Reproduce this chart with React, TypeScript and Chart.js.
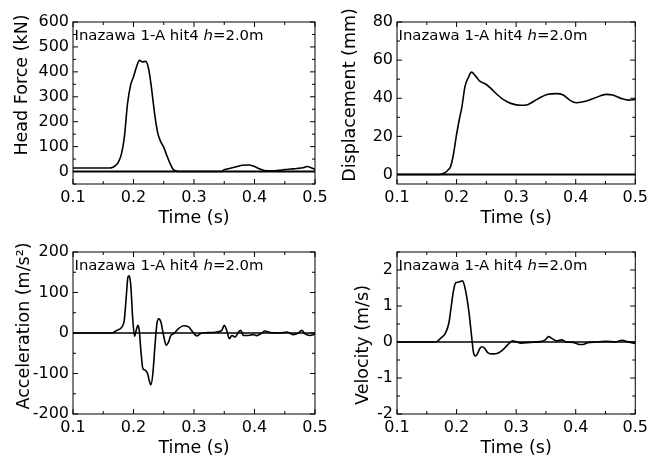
import React, { useEffect, useRef } from 'react';
import { Chart, registerables } from 'chart.js';

Chart.register(...registerables);

// ---------------- data ----------------
const timeTicks = [0.1, 0.2, 0.3, 0.4, 0.5];
const timeMinorTicks = [0.15, 0.25, 0.35, 0.45];

const forceTime = [0.100, 0.120, 0.140, 0.160, 0.165, 0.170, 0.175, 0.180, 0.185, 0.190, 0.195, 0.200, 0.205, 0.210, 0.215, 0.220, 0.225, 0.230, 0.235, 0.240, 0.245, 0.250, 0.255, 0.260, 0.265, 0.270, 0.275, 0.300, 0.320, 0.345, 0.350, 0.360, 0.370, 0.380, 0.390, 0.400, 0.410, 0.420, 0.430, 0.440, 0.450, 0.460, 0.470, 0.480, 0.487, 0.495, 0.500];
const forceValues = [14, 14, 14, 14, 16, 24, 38, 70, 140, 270, 345, 380, 420, 446, 440, 442, 412, 330, 230, 155, 120, 97, 65, 35, 10, 2, 0, 0, 0, 0, 7, 13, 19, 25, 26, 20, 9, 3, 3, 5, 8, 10, 12, 15, 20, 14, 8];
const forceTicks = [0, 100, 200, 300, 400, 500, 600];
const forceMinorTicks = [-50, 50, 150, 250, 350, 450, 550];

const dispTime = [0.100, 0.170, 0.175, 0.181, 0.186, 0.190, 0.195, 0.200, 0.205, 0.209, 0.214, 0.220, 0.225, 0.231, 0.239, 0.250, 0.258, 0.269, 0.280, 0.291, 0.308, 0.319, 0.335, 0.352, 0.368, 0.379, 0.390, 0.401, 0.418, 0.434, 0.451, 0.462, 0.478, 0.489, 0.500];
const dispValues = [0, 0, 0.3, 1, 2.5, 4.2, 11, 21, 29.5, 35.5, 46, 51, 53.7, 52, 49, 47.2, 45, 41.7, 39, 37.3, 36.3, 36.6, 39.4, 42, 42.4, 41.7, 39, 37.6, 38.5, 40.4, 42, 41.7, 39.7, 39, 39.4];
const dispTicks = [0, 20, 40, 60, 80];
const dispMinorTicks = [10, 30, 50, 70];

const accTime = [0.100, 0.164, 0.1726, 0.181, 0.1847, 0.188, 0.1908, 0.193, 0.1957, 0.1985, 0.2018, 0.2045, 0.2073, 0.2095, 0.2122, 0.2155, 0.2194, 0.2232, 0.226, 0.2287, 0.232, 0.2353, 0.2387, 0.242, 0.2453, 0.2497, 0.254, 0.258, 0.2618, 0.2662, 0.2744, 0.2827, 0.291, 0.2992, 0.3047, 0.313, 0.3267, 0.3377, 0.346, 0.350, 0.354, 0.3586, 0.3625, 0.368, 0.3735, 0.3773, 0.3817, 0.390, 0.398, 0.4037, 0.412, 0.4175, 0.4257, 0.442, 0.453, 0.464, 0.4725, 0.478, 0.4835, 0.4917, 0.500];
const accValues = [0, 0, 6.6, 15, 31, 89, 138, 141, 114, 40, -8, 6.6, 19, 6.6, -43, -88, -92, -100, -117, -128, -100, -35, 23, 35, 27, -6, -30, -22, -6, -2, 11, 18, 15, 0, -7, 0, 1, 2.5, 6.6, 19, 6.6, -14, -6, -10, 2.5, 6.6, -6, -6, -4, -6.6, 0, 5, 1, 0, 2.5, -4, 0, 6.6, -2, -6, -3];
const accTicks = [-200, -100, 0, 100, 200];
const accMinorTicks = [-150, -50, 50, 150];

const velTime = [0.100, 0.165, 0.173, 0.181, 0.187, 0.191, 0.195, 0.199, 0.203, 0.206, 0.210, 0.213, 0.217, 0.221, 0.2253, 0.2286, 0.232, 0.235, 0.239, 0.2429, 0.2473, 0.2527, 0.261, 0.2692, 0.2775, 0.2857, 0.294, 0.2995, 0.3077, 0.324, 0.3407, 0.349, 0.3544, 0.360, 0.368, 0.3764, 0.3846, 0.3956, 0.404, 0.412, 0.4203, 0.434, 0.4505, 0.467, 0.478, 0.4863, 0.500];
const velValues = [0, 0, 0.1, 0.24, 0.52, 0.98, 1.44, 1.65, 1.66, 1.68, 1.7, 1.58, 1.26, 0.8, 0.15, -0.31, -0.39, -0.33, -0.18, -0.13, -0.18, -0.3, -0.33, -0.31, -0.22, -0.08, 0.03, 0.01, -0.03, -0.01, 0.01, 0.06, 0.15, 0.1, 0.03, 0.06, 0, -0.01, -0.06, -0.07, -0.02, 0, 0.02, 0, 0.05, 0.01, -0.04];
const velTicks = [-2, -1, 0, 1, 2];
const velMinorTicks = [-1.5, -0.5, 0.5, 1.5, 2.5];

const annotationPre = 'Inazawa 1-A hit4 ';
const annotationItalic = 'h';
const annotationPost = '=2.0m';
const xTitle = 'Time (s)';

// ---------------- layout / style ----------------
const W = 652;
const H = 459;
const FONT = '"DejaVu Sans", "Liberation Sans", sans-serif';
const Y_AXIS_W = 60;
const X_AXIS_H = 30;

type Panel = {
  time: number[];
  values: number[];
  yMin: number;
  yMax: number;
  yTicks: number[];
  yMinor: number[];
  yTitle: string;
  area: { l: number; r: number; t: number; b: number };
  yTitlePos: { x: number; y: number };
  zeroWidth: number;
};

const panels: Panel[] = [
  {
    time: forceTime, values: forceValues, yMin: -50, yMax: 600, yTicks: forceTicks, yMinor: forceMinorTicks,
    yTitle: 'Head Force (kN)', area: { l: 73, r: 315, t: 22, b: 184 }, yTitlePos: { x: 22.5, y: 85 }, zeroWidth: 2,
  },
  {
    time: dispTime, values: dispValues, yMin: -5, yMax: 80, yTicks: dispTicks, yMinor: dispMinorTicks,
    yTitle: 'Displacement (mm)', area: { l: 397, r: 639, t: 22, b: 184 }, yTitlePos: { x: 350, y: 95 }, zeroWidth: 2,
  },
  {
    time: accTime, values: accValues, yMin: -200, yMax: 200, yTicks: accTicks, yMinor: accMinorTicks,
    yTitle: 'Acceleration (m/s\u00B2)', area: { l: 73, r: 315, t: 252, b: 414 }, yTitlePos: { x: 24, y: 326 }, zeroWidth: 1.3,
  },
  {
    time: velTime, values: velValues, yMin: -2, yMax: 2.5, yTicks: velTicks, yMinor: velMinorTicks,
    yTitle: 'Velocity (m/s)', area: { l: 397, r: 639, t: 252, b: 414 }, yTitlePos: { x: 363.5, y: 345 }, zeroWidth: 1.3,
  },
];

function makeChart(canvas: HTMLCanvasElement, p: Panel) {
  const decor = {
    id: 'decor',
    afterDatasetsDraw(chart: any) {
      const ctx: CanvasRenderingContext2D = chart.ctx;
      const { left, right, top, bottom } = chart.chartArea;
      const xs = chart.scales.x;
      const ys = chart.scales.y;
      ctx.save();
      ctx.strokeStyle = '#000';
      ctx.fillStyle = '#000';
      // zero line
      const y0 = ys.getPixelForValue(0);
      ctx.lineWidth = p.zeroWidth;
      ctx.beginPath();
      ctx.moveTo(left, y0);
      ctx.lineTo(right, y0);
      ctx.stroke();
      // frame
      ctx.lineWidth = 1;
      ctx.strokeRect(left, top, right - left, bottom - top);
      // ticks (inward, all sides)
      const tickX = (v: number, len: number) => {
        const x = xs.getPixelForValue(v);
        ctx.moveTo(x, bottom); ctx.lineTo(x, bottom - len);
        ctx.moveTo(x, top); ctx.lineTo(x, top + len);
      };
      const tickY = (v: number, len: number) => {
        const y = ys.getPixelForValue(v);
        ctx.moveTo(left, y); ctx.lineTo(left + len, y);
        ctx.moveTo(right, y); ctx.lineTo(right - len, y);
      };
      ctx.beginPath();
      timeTicks.forEach((v) => tickX(v, 5));
      timeMinorTicks.forEach((v) => tickX(v, 3));
      p.yTicks.forEach((v) => tickY(v, 5));
      p.yMinor.forEach((v) => tickY(v, 3));
      ctx.stroke();
      // annotation
      ctx.font = `14.9px ${FONT}`;
      ctx.textBaseline = 'alphabetic';
      ctx.textAlign = 'left';
      let tx = left + 1.5;
      const ty = top + 17.6;
      ctx.fillText(annotationPre, tx, ty);
      tx += ctx.measureText(annotationPre).width;
      ctx.font = `italic 14.9px ${FONT}`;
      ctx.fillText(annotationItalic, tx, ty);
      tx += ctx.measureText(annotationItalic).width;
      ctx.font = `14.9px ${FONT}`;
      ctx.fillText(annotationPost, tx, ty);
      // x title
      ctx.font = `17.5px ${FONT}`;
      ctx.textAlign = 'center';
      ctx.fillText(xTitle, (left + right) / 2, bottom + 38.5);
      // y title
      ctx.save();
      ctx.translate(p.yTitlePos.x, p.yTitlePos.y);
      ctx.rotate(-Math.PI / 2);
      ctx.textBaseline = 'middle';
      ctx.fillText(p.yTitle, 0, 0);
      ctx.restore();
      ctx.restore();
    },
  };

  return new Chart(canvas, {
    type: 'line',
    data: {
      datasets: [
        {
          data: p.time.map((t, i) => ({ x: t, y: p.values[i] })),
          borderColor: '#000',
          borderWidth: 1.6,
          pointRadius: 0,
          fill: false,
          cubicInterpolationMode: 'monotone',
        },
      ],
    },
    options: {
      responsive: false,
      animation: false,
      devicePixelRatio: 1,
      events: [],
      layout: {
        padding: {
          left: p.area.l - Y_AXIS_W,
          right: W - p.area.r,
          top: p.area.t,
          bottom: H - p.area.b - X_AXIS_H,
        },
      },
      plugins: { legend: { display: false }, tooltip: { enabled: false }, title: { display: false } },
      scales: {
        x: {
          type: 'linear',
          position: 'bottom',
          min: 0.1,
          max: 0.5,
          grid: { display: false, drawTicks: false },
          border: { display: false },
          ticks: {
            color: '#000',
            font: { family: FONT, size: 16 },
            padding: 4,
            maxRotation: 0,
            autoSkip: false,
            callback: (v: any) => Number(v).toFixed(1),
          },
          afterBuildTicks: (s: any) => {
            s.ticks = timeTicks.map((v) => ({ value: v }));
          },
          afterFit: (s: any) => {
            s.height = X_AXIS_H;
          },
        },
        y: {
          type: 'linear',
          position: 'left',
          min: p.yMin,
          max: p.yMax,
          grid: { display: false, drawTicks: false },
          border: { display: false },
          ticks: {
            color: '#000',
            font: { family: FONT, size: 16 },
            padding: 4,
            autoSkip: false,
            callback: (v: any) => String(v),
          },
          afterBuildTicks: (s: any) => {
            s.ticks = p.yTicks.map((v) => ({ value: v }));
          },
          afterFit: (s: any) => {
            s.width = Y_AXIS_W;
          },
        },
      },
    },
    plugins: [decor],
  } as any);
}

function PanelCanvas({ p }: { p: Panel }) {
  const ref = useRef<HTMLCanvasElement | null>(null);
  useEffect(() => {
    if (!ref.current) return;
    const chart = makeChart(ref.current, p);
    return () => chart.destroy();
  }, [p]);
  return (
    <canvas
      ref={ref}
      width={W}
      height={H}
      style={{ position: 'absolute', left: 0, top: 0, width: W, height: H }}
    />
  );
}

export default function App() {
  return (
    <div style={{ position: 'fixed', left: 0, top: 0, width: W, height: H, background: '#fff' }}>
      {panels.map((p, i) => (
        <PanelCanvas key={i} p={p} />
      ))}
    </div>
  );
}
